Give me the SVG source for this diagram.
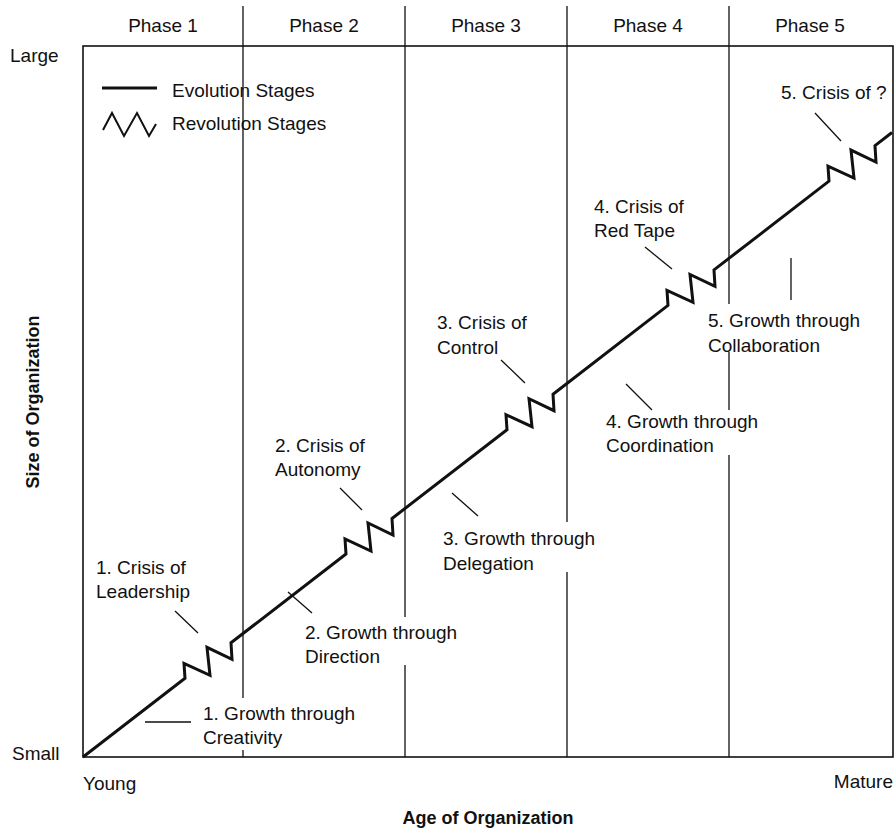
<svg xmlns="http://www.w3.org/2000/svg" width="895" height="831" viewBox="0 0 895 831">
<style>
text{font-family:"Liberation Sans",Arial,Helvetica,sans-serif;font-size:19px;fill:#111}
.b{font-weight:bold;font-size:18px}
.frame{fill:none;stroke:#111;stroke-width:1.6}
.div{stroke:#111;stroke-width:1.3;fill:none}
.ptr{stroke:#111;stroke-width:1.3;fill:none}
.main{fill:none;stroke:#111;stroke-width:3;stroke-linejoin:miter;stroke-miterlimit:10}
</style>
<rect width="895" height="831" fill="#fff"/>
<g id="frame">
<rect class="frame" x="83" y="46" width="810" height="711"/>
</g>
<g id="dividers">
<path class="div" d="M243,6V698M243,750V757M405,6V617M405,665V757M567,6V522M567,572V757M729,6V304M729,352V410M729,455V757"/>
</g>
<g id="phases">
<text x="163" y="32" text-anchor="middle">Phase 1</text>
<text x="324" y="32" text-anchor="middle">Phase 2</text>
<text x="486" y="32" text-anchor="middle">Phase 3</text>
<text x="648" y="32" text-anchor="middle">Phase 4</text>
<text x="810" y="32" text-anchor="middle">Phase 5</text>
</g>
<g id="axes">
<text x="10" y="62">Large</text>
<text x="12" y="760">Small</text>
<text x="83" y="790">Young</text>
<text x="893" y="788" text-anchor="end">Mature</text>
<text class="b" x="488" y="824" text-anchor="middle">Age of Organization</text>
<text class="b" transform="translate(39,402) rotate(-90)" text-anchor="middle">Size of Organization</text>
</g>
<g id="legend">
<line x1="102" y1="88" x2="157" y2="88" stroke="#111" stroke-width="3"/>
<text x="172" y="97">Evolution Stages</text>
<polyline points="103,130 112,113 124,136 137,113 149,136 156,124" fill="none" stroke="#111" stroke-width="2"/>
<text x="172" y="130">Revolution Stages</text>
</g>
<g id="connectors">
<polyline class="main" points="83,757 185,678.3 184,663.3 210,675.3 207,647.3 232,659.3 231,642.8 346,554 345,539 371,551 368,523 393,535 392,518.5 507,429.7 506,414.7 532,426.7 529,398.7 554,410.7 553,394.2 668,305.4 667,290.4 693,302.4 690,274.4 715,286.4 714,269.9 829,181.1 828,166.1 854,178.1 851,150.1 876,162.1 875,145.6 892,132.5"/>
<path class="ptr" d="M175,611L198,633M340,488L362,510M501,360L525,383M645,247L672,269M815,113L841,141M145,722H191M288,592L312,613M452,493L478,516M626,384L652,410M791,258V300"/>
</g>
<g id="crisis1"><text x="96" y="574">1. Crisis of</text><text x="96" y="598">Leadership</text></g>
<g id="crisis2"><text x="275" y="452">2. Crisis of</text><text x="275" y="476">Autonomy</text></g>
<g id="crisis3"><text x="437" y="329">3. Crisis of</text><text x="437" y="354">Control</text></g>
<g id="crisis4"><text x="594" y="213">4. Crisis of</text><text x="594" y="237">Red Tape</text></g>
<g id="crisis5"><text x="781" y="99">5. Crisis of ?</text></g>
<g id="growth1"><text x="203" y="720">1. Growth through</text><text x="203" y="744">Creativity</text></g>
<g id="growth2"><text x="305" y="639">2. Growth through</text><text x="305" y="663">Direction</text></g>
<g id="growth3"><text x="443" y="545">3. Growth through</text><text x="443" y="570">Delegation</text></g>
<g id="growth4"><text x="606" y="428">4. Growth through</text><text x="606" y="452">Coordination</text></g>
<g id="growth5"><text x="708" y="327">5. Growth through</text><text x="708" y="352">Collaboration</text></g>
</svg>
